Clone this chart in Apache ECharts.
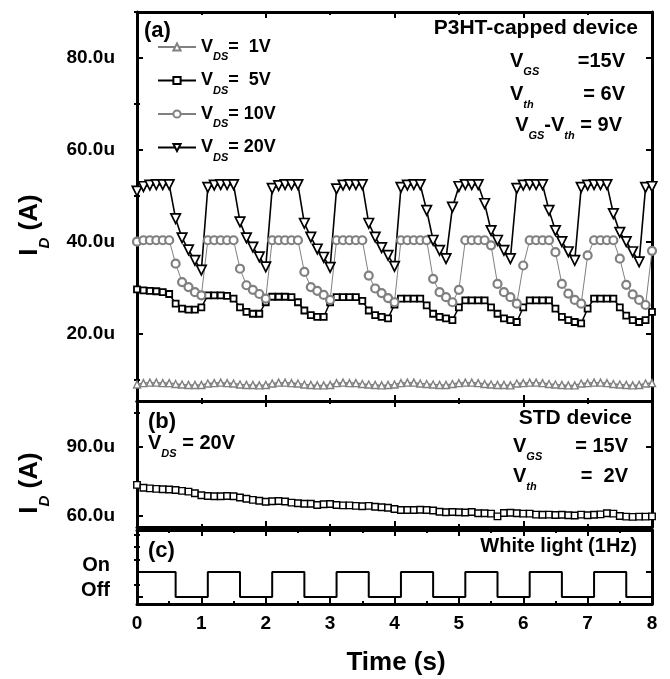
<!DOCTYPE html>
<html>
<head>
<meta charset="utf-8">
<script src="https://cdn.jsdelivr.net/npm/echarts@6/dist/echarts.min.js"></script>
<style>
html, body { margin: 0; padding: 0; background: #fff; }
#chart { width: 670px; height: 679px; }
</style>
</head>
<body>
<div id="chart"></div>
<script>
var FONT = "'Liberation Sans', Arial, Helvetica, sans-serif";

// sample times (s), shared by all series
var time = [
    0.0, 0.1, 0.2, 0.3, 0.4, 0.5, 0.6, 0.7, 0.8, 0.9,
    1.0, 1.1, 1.2, 1.3, 1.4, 1.5, 1.6, 1.7, 1.8, 1.9,
    2.0, 2.1, 2.2, 2.3, 2.4, 2.5, 2.6, 2.7, 2.8, 2.9,
    3.0, 3.1, 3.2, 3.3, 3.4, 3.5, 3.6, 3.7, 3.8, 3.9,
    4.0, 4.1, 4.2, 4.3, 4.4, 4.5, 4.6, 4.7, 4.8, 4.9,
    5.0, 5.1, 5.2, 5.3, 5.4, 5.5, 5.6, 5.7, 5.8, 5.9,
    6.0, 6.1, 6.2, 6.3, 6.4, 6.5, 6.6, 6.7, 6.8, 6.9,
    7.0, 7.1, 7.2, 7.3, 7.4, 7.5, 7.6, 7.7, 7.8, 7.9,
    8.0
];

// (a) P3HT-capped device, I_D in uA
var id1V = [
    8.9, 9.2, 9.3, 9.3, 9.2, 9.2, 9.0, 8.9, 8.8, 8.8,
    8.8, 9.1, 9.2, 9.3, 9.2, 9.1, 8.9, 8.8, 8.8, 8.7,
    8.8, 9.1, 9.3, 9.3, 9.2, 9.1, 8.9, 8.8, 8.7, 8.7,
    8.8, 9.2, 9.3, 9.2, 9.2, 9.0, 8.9, 8.8, 8.7, 8.8,
    8.9, 9.2, 9.3, 9.3, 9.1, 9.0, 8.9, 8.8, 8.8, 9.0,
    9.2, 9.3, 9.3, 9.2, 9.0, 8.9, 8.8, 8.8, 8.7, 9.1,
    9.2, 9.3, 9.3, 9.2, 9.0, 8.9, 8.8, 8.7, 8.7, 9.1,
    9.2, 9.3, 9.3, 9.2, 9.0, 8.9, 8.8, 8.7, 8.8, 9.1,
    9.2
];
var id5V = [
    29.6, 29.4, 29.3, 29.2, 29.0, 28.6, 26.5, 25.4, 25.2, 25.2,
    25.7, 28.3, 28.3, 28.3, 28.2, 27.6, 25.7, 24.7, 24.3, 24.3,
    26.8, 28.0, 28.0, 28.0, 27.9, 26.8, 25.0, 24.0, 23.6, 23.6,
    26.8, 27.9, 27.9, 27.9, 27.9, 27.1, 25.0, 24.0, 23.6, 23.3,
    26.3, 27.6, 27.6, 27.6, 27.6, 26.1, 24.3, 23.6, 23.3, 22.9,
    25.7, 27.2, 27.2, 27.2, 27.2, 25.7, 24.3, 23.3, 22.9, 22.5,
    25.7, 27.2, 27.2, 27.2, 27.2, 25.4, 23.6, 22.9, 22.5, 22.2,
    25.4, 27.6, 27.6, 27.6, 27.6, 25.7, 23.9, 22.9, 22.5, 22.9,
    24.7
];
var id10V = [
    40.0, 40.3, 40.3, 40.3, 40.3, 40.3, 35.2, 31.2, 30.1, 29.0,
    28.3, 40.3, 40.3, 40.3, 40.3, 40.3, 34.1, 30.5, 29.5, 28.6,
    27.6, 40.3, 40.3, 40.3, 40.3, 40.3, 33.4, 30.1, 29.3, 28.4,
    27.3, 40.3, 40.3, 40.3, 40.3, 40.3, 32.6, 29.8, 28.8, 27.7,
    26.8, 40.3, 40.3, 40.3, 40.3, 40.3, 31.9, 29.0, 27.9, 26.8,
    29.5, 40.3, 40.3, 40.3, 40.3, 39.2, 30.8, 29.0, 27.9, 26.5,
    34.8, 40.3, 40.3, 40.3, 40.3, 37.7, 30.8, 28.7, 27.3, 26.5,
    37.0, 40.3, 40.3, 40.3, 40.3, 36.3, 30.6, 28.5, 27.3, 26.2,
    38.0
];
var id20V = [
    51.0, 52.0, 52.3, 52.4, 52.4, 52.4, 45.0, 40.8, 38.2, 35.9,
    33.8, 51.8, 52.3, 52.4, 52.4, 52.4, 44.3, 40.8, 38.8, 36.7,
    34.5, 51.6, 52.2, 52.4, 52.4, 52.4, 44.0, 41.0, 38.4, 36.6,
    34.4, 51.5, 52.3, 52.4, 52.4, 52.4, 44.0, 41.0, 38.7, 37.0,
    34.6, 51.8, 52.3, 52.4, 52.4, 46.8, 40.3, 38.1, 36.3, 47.5,
    52.0, 52.4, 52.4, 52.4, 48.3, 42.4, 40.3, 38.1, 36.3, 51.6,
    52.3, 52.4, 52.4, 52.4, 46.8, 42.4, 40.0, 37.8, 35.9, 51.8,
    52.3, 52.4, 52.4, 52.4, 46.1, 42.0, 40.0, 37.8, 35.6, 51.8,
    52.0
];

// (b) STD device, V_DS = 20V, I_D in uA
var idStd = [
    73.5, 72.3, 72.0, 71.8, 71.6, 71.5, 71.3, 70.9, 70.6, 69.9,
    69.0, 68.7, 68.6, 68.6, 68.7, 68.6, 68.0, 67.5, 67.0, 66.6,
    66.2, 66.4, 66.5, 66.3, 65.8, 65.5, 65.3, 65.3, 64.8, 65.1,
    65.2, 64.8, 64.6, 64.6, 64.4, 64.2, 64.4, 64.0, 63.8, 63.6,
    63.0, 62.6, 62.6, 62.6, 62.7, 62.6, 62.4, 61.8, 61.6, 61.7,
    61.6, 61.5, 61.7, 61.2, 61.2, 61.0, 59.8, 61.3, 61.4, 61.2,
    61.0, 61.0, 60.6, 60.5, 60.6, 60.4, 60.5, 60.3, 60.2, 60.6,
    60.3, 60.5, 60.7, 61.2, 61.0, 60.0, 59.7, 59.6, 59.7, 59.7,
    59.8
];

// (c) white light, 1 = On, 0 = Off
var lightTime  = [0, 0.6, 1.1, 1.6, 2.1, 2.6, 3.1, 3.6, 4.1, 4.6, 5.1, 5.6, 6.1, 6.6, 7.1, 7.6, 8];
var lightState = [1, 0,   1,   0,   1,   0,   1,   0,   1,   0,   1,   0,   1,   0,   1,   0,   0];

var legendNames = ['1V', '5V', '10V', '20V'];
var legendText = { '1V': '=  1V', '5V': '=  5V', '10V': '= 10V', '20V': '= 20V' };

var chart = echarts.init(document.getElementById('chart'));

function pairs(xs, ys) {
    return xs.map(function (t, i) { return [t, ys[i]]; });
}

// frame of one panel: ticks inside on all four sides
var xAxes = [], yAxes = [];
function addFrame(gi, yMin, yMax, yMajor, yMinor, xStep, xLabels, yFormatter, yMargin) {
    var line = { onZero: false, lineStyle: { color: '#000', width: 3 } };
    ['bottom', 'top'].forEach(function (pos) {
        xAxes.push({
            gridIndex: gi, type: 'value', position: pos, min: 0, max: 8, interval: xStep,
            axisLine: line,
            axisTick: { inside: true, length: 6, lineStyle: { color: '#000', width: 2 } },
            minorTick: { show: true, splitNumber: 2, length: 3, lineStyle: { color: '#000', width: 2 } },
            axisLabel: (pos === 'bottom' && xLabels) ? {
                color: '#000', fontFamily: FONT, fontWeight: 'bold', fontSize: 19, margin: 10
            } : { show: false },
            splitLine: { show: false }
        });
    });
    var first = yAxes.length;
    ['left', 'right'].forEach(function (pos) {
        var label = { show: false };
        if (pos === 'left') {
            label = {
                customValues: yMajor, formatter: yFormatter, margin: yMargin,
                color: '#000', fontFamily: FONT, fontWeight: 'bold', fontSize: 19
            };
            if (gi === 2) {
                // On / Off sit a little above their levels
                label.fontSize = 20;
                label.verticalAlign = 'bottom';
                label.lineHeight = 14;
            }
        }
        yAxes.push({
            gridIndex: gi, type: 'value', position: pos, min: yMin, max: yMax,
            axisLine: line,
            axisTick: { inside: true, length: 6, customValues: yMajor, lineStyle: { color: '#000', width: 2 } },
            axisLabel: label,
            splitLine: { show: false }
        });
        yAxes.push({
            gridIndex: gi, type: 'value', position: pos, min: yMin, max: yMax,
            axisLine: { show: false },
            axisTick: { inside: true, length: 3, customValues: yMinor, lineStyle: { color: '#000', width: 2 } },
            axisLabel: { show: false },
            splitLine: { show: false }
        });
    });
    return { x: xAxes.length - 2, y: first };
}

function fmtU(v) { return v.toFixed(1) + 'u'; }
function fmtLight(v) { return v === 1 ? 'On' : 'Off'; }

var pA = addFrame(0, 5.3, 90, [20, 40, 60, 80], [10, 30, 50, 70, 90], 2, false, fmtU, 22);
var pB = addFrame(1, 55.2, 110, [60, 90], [75, 105], 2, false, fmtU, 22);
var pC = addFrame(2, -0.28, 2.68, [0, 1], [0.5, 1.5, 2, 2.5], 1, true, fmtLight, 27);

function markSeries(name, p, values, symbol, size, color, lineWidth, borderWidth, rotate) {
    return {
        name: name, type: 'line', xAxisIndex: p.x, yAxisIndex: p.y,
        data: pairs(time, values),
        symbol: symbol, symbolSize: size, symbolRotate: rotate || 0,
        showAllSymbol: true,
        lineStyle: { color: color, width: lineWidth },
        itemStyle: { color: '#fff', borderColor: color, borderWidth: borderWidth },
        emphasis: { disabled: true }
    };
}

var sub = {
    v: { fontSize: 20, fontWeight: 'bold', fontFamily: FONT, fill: '#000' },
    s: { fontSize: 11, fontWeight: 'bold', fontStyle: 'italic', fontFamily: FONT, fill: '#000', padding: [21, 0, 0, 0] },
    big: { fontSize: 26, fontWeight: 'bold', fontFamily: FONT, fill: '#000' },
    bs: { fontSize: 15, fontWeight: 'bold', fontStyle: 'italic', fontFamily: FONT, fill: '#000', padding: [30, 0, 0, 0] }
};
function txt(x, y, text, align, rotation) {
    return {
        type: 'text', x: x, y: y, rotation: rotation || 0,
        style: { text: text, rich: sub, align: align, verticalAlign: 'middle', fill: '#000' }
    };
}
function plain(x, y, text, size, align) {
    return {
        type: 'text', x: x, y: y,
        style: { text: text, fontSize: size, fontWeight: 'bold', fontFamily: FONT, fill: '#000', align: align, verticalAlign: 'middle' }
    };
}

var option = {
    backgroundColor: '#fff',
    animation: false,
    grid: [
        { left: 137, width: 515, top: 12, height: 389 },
        { left: 137, width: 515, top: 401, height: 126 },
        { left: 137, width: 515, top: 530, height: 74 }
    ],
    xAxis: xAxes,
    yAxis: yAxes,
    legend: {
        data: legendNames, orient: 'vertical', left: 157, top: 38, padding: 0,
        itemWidth: 38, itemHeight: 9, itemGap: 9, selectedMode: false,
        formatter: function (name) { return '{v|V}{s|DS}{v|' + legendText[name] + '}'; },
        textStyle: {
            rich: {
                v: { fontSize: 18, fontWeight: 'bold', fontFamily: FONT, color: '#000' },
                s: { fontSize: 11, fontWeight: 'bold', fontStyle: 'italic', fontFamily: FONT, color: '#000', padding: [20, 0, 0, 0] }
            }
        }
    },
    series: [
        markSeries('1V', pA, id1V, 'triangle', 7, '#808080', 1.5, 1.4),
        markSeries('5V', pA, id5V, 'rect', 6, '#000', 1.5, 1.8),
        markSeries('10V', pA, id10V, 'circle', 8, '#808080', 1, 2.2),
        markSeries('20V', pA, id20V, 'triangle', 9.5, '#000', 1.6, 1.7, 180),
        markSeries('STD', pB, idStd, 'rect', 6.5, '#000', 1, 1.4),
        {
            name: 'light', type: 'line', xAxisIndex: pC.x, yAxisIndex: pC.y,
            data: pairs(lightTime, lightState), step: 'end', symbol: 'none',
            lineStyle: { color: '#000', width: 2 }
        }
    ],
    graphic: [
        plain(144, 31, '(a)', 22, 'left'),
        plain(638, 28, 'P3HT-capped device', 21, 'right'),
        txt(510, 61, '{v|V}{s|GS}', 'left'),
        txt(625, 61, '{v|=15V}', 'right'),
        txt(510, 94, '{v|V}{s|th}', 'left'),
        txt(625, 94, '{v|= 6V}', 'right'),
        txt(622, 125, '{v|V}{s|GS}{v|-V}{s|th}{v| = 9V}', 'right'),

        plain(148, 422, '(b)', 22, 'left'),
        txt(148, 443, '{v|V}{s|DS}{v| = 20V}', 'left'),
        plain(632, 418, 'STD device', 21, 'right'),
        txt(513, 446, '{v|V}{s|GS}', 'left'),
        txt(628, 446, '{v|= 15V}', 'right'),
        txt(513, 476, '{v|V}{s|th}', 'left'),
        txt(628, 476, '{v|=  2V}', 'right'),

        plain(148, 551, '(c)', 22, 'left'),
        plain(637, 546, 'White light (1Hz)', 20, 'right'),

        txt(30, 225, '{big|I}{bs|D}{big| (A)}', 'center', Math.PI / 2),
        txt(30, 483, '{big|I}{bs|D}{big| (A)}', 'center', Math.PI / 2),
        plain(396, 663, 'Time (s)', 26, 'center')
    ]
};

chart.setOption(option);
</script>
</body>
</html>
